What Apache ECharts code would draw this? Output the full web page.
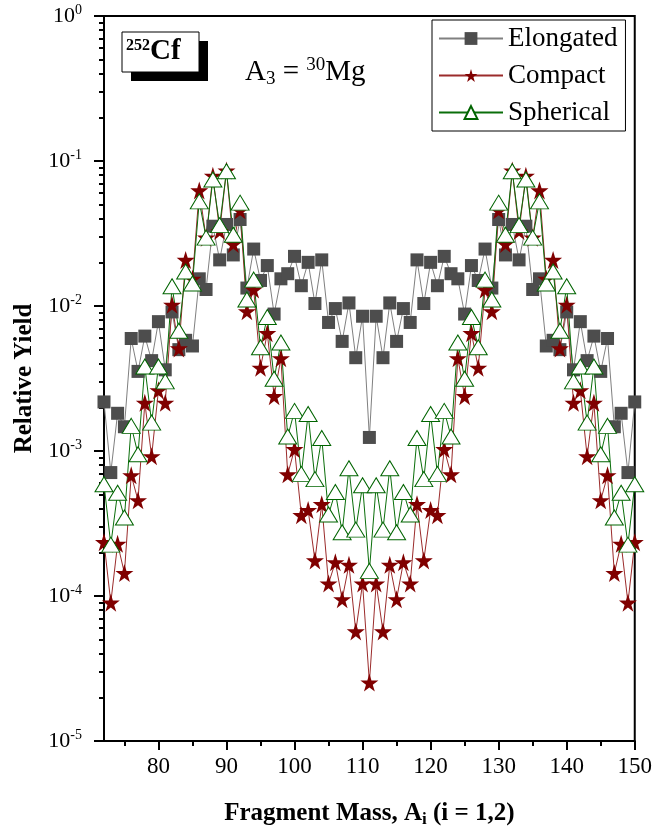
<!DOCTYPE html>
<html>
<head>
<meta charset="utf-8">
<script src="https://cdn.jsdelivr.net/npm/echarts@6/dist/echarts.min.js"></script>
<style>
  html, body { margin: 0; padding: 0; background: #fff; }
  #main { width: 655px; height: 833px; }
</style>
</head>
<body>
<div id="main"></div>
<script>
// fragment mass A = 72 ... 150
const mass = []
for (let a = 72; a <= 150; a++) mass.push(a)

const elongated = [
  2.18e-3, 7.1e-4, 1.82e-3, 1.47e-3, 5.97e-3, 3.54e-3, 6.2e-3, 4.2e-3, 7.8e-3, 3.63e-3,
  9.1e-3, 5.0e-3, 5.8e-3, 5.3e-3, 1.54e-2, 1.3e-2, 3.55e-2, 2.08e-2, 3.65e-2, 2.25e-2,
  3.95e-2, 1.33e-2, 2.47e-2, 1.5e-2, 1.9e-2, 8.8e-3, 1.54e-2, 1.67e-2, 2.2e-2, 1.38e-2,
  2.0e-2, 1.04e-2, 2.08e-2, 7.7e-3, 9.6e-3, 5.7e-3, 1.05e-2, 4.4e-3, 8.5e-3, 1.24e-3,
  8.5e-3, 4.4e-3, 1.05e-2, 5.7e-3, 9.6e-3, 7.7e-3, 2.08e-2, 1.04e-2, 2.0e-2, 1.38e-2,
  2.2e-2, 1.67e-2, 1.54e-2, 8.8e-3, 1.9e-2, 1.5e-2, 2.47e-2, 1.33e-2, 3.95e-2, 2.25e-2,
  3.65e-2, 2.08e-2, 3.55e-2, 1.3e-2, 1.54e-2, 5.3e-3, 5.8e-3, 5.0e-3, 9.1e-3, 3.63e-3,
  7.8e-3, 4.2e-3, 6.2e-3, 3.54e-3, 5.97e-3, 1.47e-3, 1.82e-3, 7.1e-4, 2.18e-3
]
const compact = [
  2.35e-4, 9.0e-5, 2.29e-4, 1.44e-4, 6.8e-4, 4.57e-4, 2.15e-3, 9.2e-4, 2.62e-3, 2.15e-3,
  1.02e-2, 5.1e-3, 2.08e-2, 1.54e-2, 6.27e-2, 2.96e-2, 7.9e-2, 3.29e-2, 8.6e-2, 2.68e-2,
  4.57e-2, 9.2e-3, 1.3e-2, 3.75e-3, 6.5e-3, 2.39e-3, 4.36e-3, 6.9e-4, 1.03e-3, 3.61e-4,
  3.92e-4, 1.76e-4, 4.3e-4, 1.22e-4, 1.71e-4, 9.5e-5, 1.64e-4, 5.7e-5, 1.22e-4, 2.53e-5,
  1.22e-4, 5.7e-5, 1.64e-4, 9.5e-5, 1.71e-4, 1.22e-4, 4.3e-4, 1.76e-4, 3.92e-4, 3.61e-4,
  1.03e-3, 6.9e-4, 4.36e-3, 2.39e-3, 6.5e-3, 3.75e-3, 1.3e-2, 9.2e-3, 4.57e-2, 2.68e-2,
  8.6e-2, 3.29e-2, 7.9e-2, 2.96e-2, 6.27e-2, 1.54e-2, 2.08e-2, 5.1e-3, 1.02e-2, 2.15e-3,
  2.62e-3, 9.2e-4, 2.15e-3, 4.57e-4, 6.8e-4, 1.44e-4, 2.29e-4, 9.0e-5, 2.35e-4
]
const spherical = [
  5.9e-4, 2.26e-4, 5.15e-4, 3.48e-4, 1.49e-3, 9.5e-4, 3.83e-3, 1.57e-3, 3.83e-3, 3.02e-3,
  1.37e-2, 6.75e-3, 1.73e-2, 1.43e-2, 5.27e-2, 2.96e-2, 7.45e-2, 3.61e-2, 8.5e-2, 3.1e-2,
  5.16e-2, 1.11e-2, 1.52e-2, 5.19e-3, 8.4e-3, 3.15e-3, 5.6e-3, 1.26e-3, 1.89e-3, 6.95e-4,
  1.8e-3, 6.4e-4, 1.23e-3, 3.65e-4, 5.22e-4, 2.75e-4, 7.6e-4, 2.87e-4, 5.8e-4, 1.49e-4,
  5.8e-4, 2.87e-4, 7.6e-4, 2.75e-4, 5.22e-4, 3.65e-4, 1.23e-3, 6.4e-4, 1.8e-3, 6.95e-4,
  1.89e-3, 1.26e-3, 5.6e-3, 3.15e-3, 8.4e-3, 5.19e-3, 1.52e-2, 1.11e-2, 5.16e-2, 3.1e-2,
  8.5e-2, 3.61e-2, 7.45e-2, 2.96e-2, 5.27e-2, 1.43e-2, 1.73e-2, 6.75e-3, 1.37e-2, 3.02e-3,
  3.83e-3, 1.57e-3, 3.83e-3, 9.5e-4, 1.49e-3, 3.48e-4, 5.15e-4, 2.26e-4, 5.9e-4
]

// tick positions
const xMajor = [80, 90, 100, 110, 120, 130, 140, 150]
const xMinor = [75, 85, 95, 105, 115, 125, 135, 145]
const yMajor = [1e-5, 1e-4, 1e-3, 1e-2, 1e-1, 1]
const yMinor = []
for (let e = -5; e < 0; e++) {
  for (let m = 2; m <= 9; m++) yMinor.push(m * Math.pow(10, e))
}

const serif = 'Liberation Serif'
const starPath = 'path://M50,0 L61,35 L98,35 L68,57 L79,91 L50,70 L21,91 L32,57 L2,35 L39,35 Z'

function pairs(arr) {
  return mass.map((a, i) => [a, arr[i]])
}

const mycharts = echarts.init(document.querySelector('#main'))
const option = {
  animation: false,
  backgroundColor: '#fff',
  grid: {
    left: 104, right: 18, top: 16, bottom: 86,
    show: true, borderColor: '#000', borderWidth: 2, backgroundColor: 'transparent'
  },
  legend: {
    orient: 'vertical',
    left: 432, top: 20,
    itemWidth: 64, itemHeight: 16, itemGap: 10,
    padding: [5, 8, 5, 6],
    borderColor: '#000', borderWidth: 1, backgroundColor: '#fff',
    textStyle: { fontFamily: serif, fontSize: 27, color: '#000' },
    data: ['Elongated', 'Compact', 'Spherical']
  },
  xAxis: [
    {
      type: 'value', min: 72, max: 150,
      name: 'Fragment Mass, A{sub|i}{b| (i = 1,2)}',
      nameLocation: 'middle', nameGap: 58,
      nameTextStyle: {
        fontFamily: serif, fontSize: 25, fontWeight: 'bold', color: '#000',
        rich: {
          b: { fontFamily: serif, fontSize: 25, fontWeight: 'bold', color: '#000' },
          sub: { fontFamily: serif, fontSize: 17, fontWeight: 'bold', color: '#000', padding: [12, 0, 0, 0] }
        }
      },
      splitLine: { show: false },
      axisLine: { show: true, lineStyle: { color: '#000', width: 2 } },
      axisTick: { show: true, length: 9, customValues: xMajor, lineStyle: { color: '#000', width: 2 } },
      axisLabel: { show: true, customValues: xMajor, margin: 14, fontFamily: serif, fontSize: 23, color: '#000' }
    },
    {
      type: 'value', min: 72, max: 150, position: 'bottom',
      splitLine: { show: false },
      axisLine: { show: false },
      axisTick: { show: true, length: 5, customValues: xMinor, lineStyle: { color: '#000', width: 2 } },
      axisLabel: { show: false }
    }
  ],
  yAxis: [
    {
      type: 'log', logBase: 10, min: 1e-5, max: 1,
      name: 'Relative Yield',
      nameLocation: 'middle', nameGap: 54,
      nameTextStyle: { fontFamily: serif, fontSize: 25, fontWeight: 'bold', color: '#000' },
      splitLine: { show: false },
      axisLine: { show: true, lineStyle: { color: '#000', width: 2 } },
      axisTick: { show: true, length: 10, customValues: yMajor, lineStyle: { color: '#000', width: 2 } },
      axisLabel: {
        show: true,
        customValues: yMajor,
        margin: 22,
        formatter: function (v) {
          const e = Math.round(Math.log10(v))
          return '{b|10}{s|' + e + '}'
        },
        rich: {
          b: { fontFamily: serif, fontSize: 22, color: '#000' },
          s: { fontFamily: serif, fontSize: 14, color: '#000', padding: [0, 0, 12, 0] }
        }
      }
    },
    {
      type: 'log', logBase: 10, min: 1e-5, max: 1, position: 'left',
      splitLine: { show: false },
      axisLine: { show: false },
      axisTick: { show: true, length: 5, customValues: yMinor, lineStyle: { color: '#000', width: 2 } },
      axisLabel: { show: false }
    }
  ],
  graphic: [
    { type: 'rect', shape: { x: 131, y: 41, width: 77, height: 40 }, style: { fill: '#000' } },
    { type: 'rect', shape: { x: 122, y: 32, width: 77, height: 40 }, style: { fill: '#fff', stroke: '#000', lineWidth: 1 } },
    {
      type: 'text', left: 126, top: 37,
      style: {
        text: '{sup|252}{b|Cf}',
        rich: {
          sup: { fontFamily: serif, fontSize: 16, fontWeight: 'bold', fill: '#000', padding: [0, 0, 12, 0] },
          b: { fontFamily: serif, fontSize: 29, fontWeight: 'bold', fill: '#000' }
        }
      }
    },
    {
      type: 'text', left: 245, top: 56,
      style: {
        text: '{a|A}{sub|3}{a| = }{sup|30}{a|Mg}',
        rich: {
          a: { fontFamily: serif, fontSize: 29, fill: '#000' },
          sub: { fontFamily: serif, fontSize: 19, fill: '#000', padding: [14, 0, 0, 0] },
          sup: { fontFamily: serif, fontSize: 19, fill: '#000', padding: [0, 0, 14, 0] }
        }
      }
    }
  ],
  series: [
    {
      name: 'Elongated',
      type: 'line',
      data: pairs(elongated),
      symbol: 'rect', symbolSize: 13,
      lineStyle: { color: '#808080', width: 1 },
      itemStyle: { color: '#4d4d4d' }
    },
    {
      name: 'Compact',
      type: 'line',
      data: pairs(compact),
      symbol: starPath, symbolSize: 18,
      lineStyle: { color: '#9b2b2b', width: 1 },
      itemStyle: { color: '#800000' }
    },
    {
      name: 'Spherical',
      type: 'line',
      data: pairs(spherical),
      symbol: 'triangle', symbolSize: [18, 15],
      lineStyle: { color: '#0a6e0a', width: 1 },
      itemStyle: { color: '#fff', borderColor: '#006400', borderWidth: 1 }
    }
  ]
}
mycharts.setOption(option)
</script>
</body>
</html>
